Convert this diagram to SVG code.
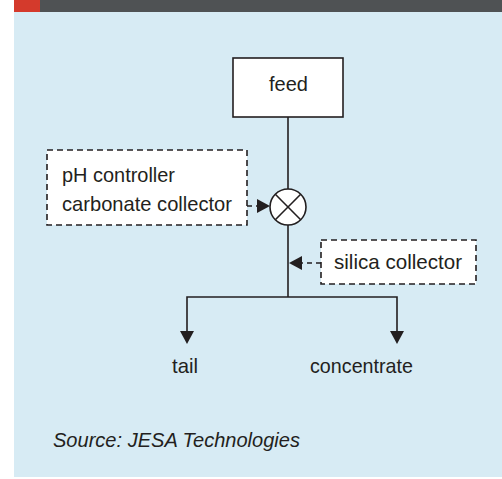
<svg xmlns="http://www.w3.org/2000/svg" width="502" height="479" viewBox="0 0 502 479">
<defs>
<style>
.lbl{font-family:"Liberation Sans",Arial,sans-serif;font-size:21px;fill:#231f20}
.box{fill:#ffffff;stroke:#231f20;stroke-width:1.6}
.dbox{fill:#ffffff;stroke:#231f20;stroke-width:1.6;stroke-dasharray:6,4}
.ln{fill:none;stroke:#231f20;stroke-width:1.6}
.dln{fill:none;stroke:#231f20;stroke-width:1.6;stroke-dasharray:5,4}
</style>
</defs>
<rect x="0" y="0" width="502" height="479" fill="#ffffff"/>
<rect x="14" y="0" width="488" height="12" fill="#4f5254"/>
<rect x="14" y="0" width="26" height="12" fill="#d43a2c"/>
<rect x="14" y="12" width="488" height="465" fill="#d7ebf4"/>

<g id="connectors">
<line class="ln" x1="288" y1="117" x2="288" y2="189"/>
<line class="ln" x1="288" y1="225" x2="288" y2="297"/>
<polyline class="ln" points="187,333 187,297 397,297 397,333"/>
<path d="M180,331 L194,331 L187,344 Z" fill="#231f20"/>
<path d="M390,331 L404,331 L397,344 Z" fill="#231f20"/>
<line class="dln" x1="247" y1="206" x2="258" y2="206"/>
<path d="M257,199 L270,206 L257,213 Z" fill="#231f20"/>
<line class="dln" x1="321" y1="263" x2="302" y2="263"/>
<path d="M302,256 L289,263 L302,270 Z" fill="#231f20"/>
</g>

<g id="feed">
<rect class="box" x="233" y="58" width="110" height="59"/>
<text class="lbl" x="269" y="91" textLength="39" lengthAdjust="spacingAndGlyphs">feed</text>
</g>

<g id="mixer">
<circle cx="288" cy="207" r="18" fill="#ffffff" stroke="#231f20" stroke-width="1.6"/>
<line class="ln" x1="275.3" y1="194.3" x2="300.7" y2="219.7"/>
<line class="ln" x1="300.7" y1="194.3" x2="275.3" y2="219.7"/>
</g>

<g id="ph-controller">
<rect class="dbox" x="47" y="150" width="200" height="75"/>
<text class="lbl" x="62" y="182" textLength="113" lengthAdjust="spacingAndGlyphs">pH controller</text>
<text class="lbl" x="62" y="211" textLength="170" lengthAdjust="spacingAndGlyphs">carbonate collector</text>
</g>

<g id="silica-collector">
<rect class="dbox" x="321" y="240" width="155" height="44"/>
<text class="lbl" x="334" y="269" textLength="128" lengthAdjust="spacingAndGlyphs">silica collector</text>
</g>

<g id="tail">
<text class="lbl" x="172" y="373" textLength="26" lengthAdjust="spacingAndGlyphs">tail</text>
</g>

<g id="concentrate">
<text class="lbl" x="310" y="373" textLength="103" lengthAdjust="spacingAndGlyphs">concentrate</text>
</g>

<text class="lbl" x="53" y="447" font-style="italic" font-size="19" textLength="247" lengthAdjust="spacingAndGlyphs">Source: JESA Technologies</text>
</svg>
